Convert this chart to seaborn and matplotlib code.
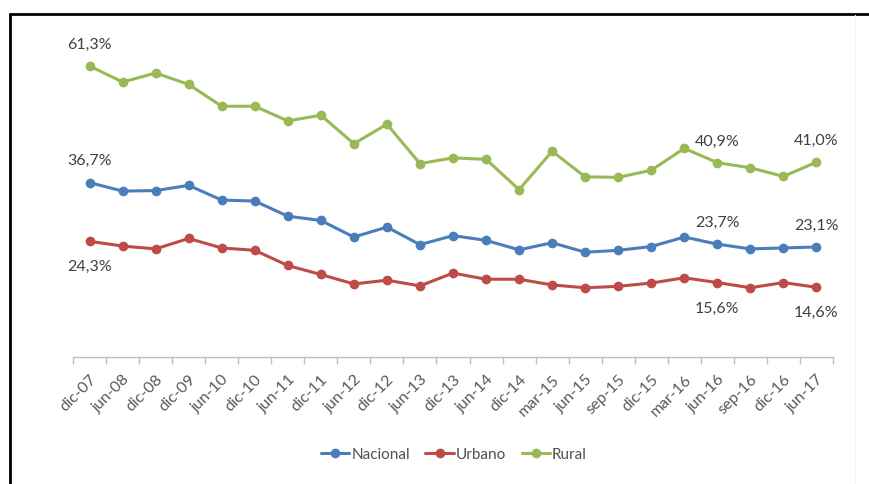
import numpy as np
import pandas as pd
import matplotlib
matplotlib.use("Agg")
import matplotlib.pyplot as plt
from matplotlib.lines import Line2D
import seaborn as sns

categories = ["dic-07", "jun-08", "dic-08", "dic-09", "jun-10", "dic-10", "jun-11",
              "dic-11", "jun-12", "dic-12", "jun-13", "dic-13", "jun-14", "dic-14",
              "mar-15", "jun-15", "sep-15", "dic-15", "mar-16", "jun-16", "sep-16",
              "dic-16", "jun-17"]
nacional = [36.7, 34.9, 35.0, 36.1, 33.0, 32.8, 29.6, 28.7, 25.2, 27.3, 23.6, 25.5,
            24.5, 22.5, 24.0, 22.0, 22.4, 23.2, 25.2, 23.7, 22.7, 22.9, 23.1]
urbano = [24.3, 23.3, 22.7, 24.9, 22.9, 22.4, 19.2, 17.3, 15.3, 16.1, 14.9, 17.6,
          16.3, 16.3, 15.1, 14.5, 14.8, 15.5, 16.6, 15.6, 14.5, 15.6, 14.6]
rural = [61.3, 57.9, 59.8, 57.4, 52.8, 52.8, 49.7, 50.9, 44.9, 49.0, 40.7, 41.9,
         41.6, 35.2, 43.3, 37.9, 37.8, 39.3, 43.9, 40.9, 39.8, 38.0, 41.0]
series_names = ["Nacional", "Urbano", "Rural"]
colors = ["#4A7EBB", "#BE4B48", "#98B954"]

# labels: (series index, category index, text, above?)
labels = [(2, 0, "61,3%", True), (0, 0, "36,7%", True), (1, 0, "24,3%", False),
          (2, 19, "40,9%", True), (0, 19, "23,7%", True), (1, 19, "15,6%", False),
          (2, 22, "41,0%", True), (0, 22, "23,1%", True), (1, 22, "14,6%", False)]

sns.set_theme(style="white")
plt.rcParams["font.family"] = ["Lato", "DejaVu Sans"]

pos = np.arange(len(categories))
rows = []
for name, vals in zip(series_names, [nacional, urbano, rural]):
    for p, v in zip(pos, vals):
        rows.append({"pos": p, "valor": v, "serie": name})
df = pd.DataFrame(rows)

fig = plt.figure(figsize=(8.7, 4.85), dpi=100)
ax = fig.add_axes([73 / 870, 1 - 357.5 / 485, 760 / 870, 65 * 4.74 / 485])

sns.lineplot(data=df, x="pos", y="valor", hue="serie", hue_order=series_names,
             palette=colors, marker="o", markersize=7, markeredgewidth=0,
             linewidth=2.2, sort=False, ax=ax, legend=True)

ax.set_xlim(-0.5, len(categories) - 0.5)
ax.set_ylim(0, 65)
ax.set_xlabel("")
ax.set_ylabel("")
ax.set_yticks([])
ax.set_xticks(pos)
ax.set_xticklabels(categories, rotation=45, ha="right", rotation_mode="anchor",
                   fontsize=11.5, color="#595959")
ax.set_xticks(np.arange(-0.5, len(categories), 1.0), minor=True)
ax.tick_params(axis="x", which="major", length=0, pad=11)
ax.tick_params(axis="x", which="minor", length=5, width=1, color="#BFBFBF",
               direction="out", bottom=True)
for s in ["top", "right", "left"]:
    ax.spines[s].set_visible(False)
ax.spines["bottom"].set_color("#BFBFBF")
ax.spines["bottom"].set_linewidth(1)

series_vals = [nacional, urbano, rural]
for si, ci, txt, above in labels:
    off = 16 if above else -18
    ax.annotate(txt, (pos[ci], series_vals[si][ci]), xytext=(0, off),
                textcoords="offset points", ha="center", va="center",
                fontsize=11.5, color="#404040")

handles, labs = ax.get_legend_handles_labels()
ax.legend(handles, labs, loc="center", bbox_to_anchor=(454 / 870, 1 - 455 / 485),
          bbox_transform=fig.transFigure, ncol=3, frameon=False, fontsize=11,
          handlelength=1.85, handletextpad=0.15, columnspacing=1.0,
          labelcolor="#505050")

# outer frame (left and top border)
fig.add_artist(Line2D([10 / 870, 10 / 870], [0, 1 - 15 / 485], color="black",
                      linewidth=2, transform=fig.transFigure))
fig.add_artist(Line2D([10 / 870, 1], [1 - 15 / 485, 1 - 15 / 485], color="black",
                      linewidth=2, transform=fig.transFigure))
fig.add_artist(Line2D([855 / 870, 855 / 870], [0, 1 - 16 / 485], color="#F4F4F4",
                      linewidth=1, transform=fig.transFigure))

fig.savefig("out.png", dpi=100, facecolor="white")
